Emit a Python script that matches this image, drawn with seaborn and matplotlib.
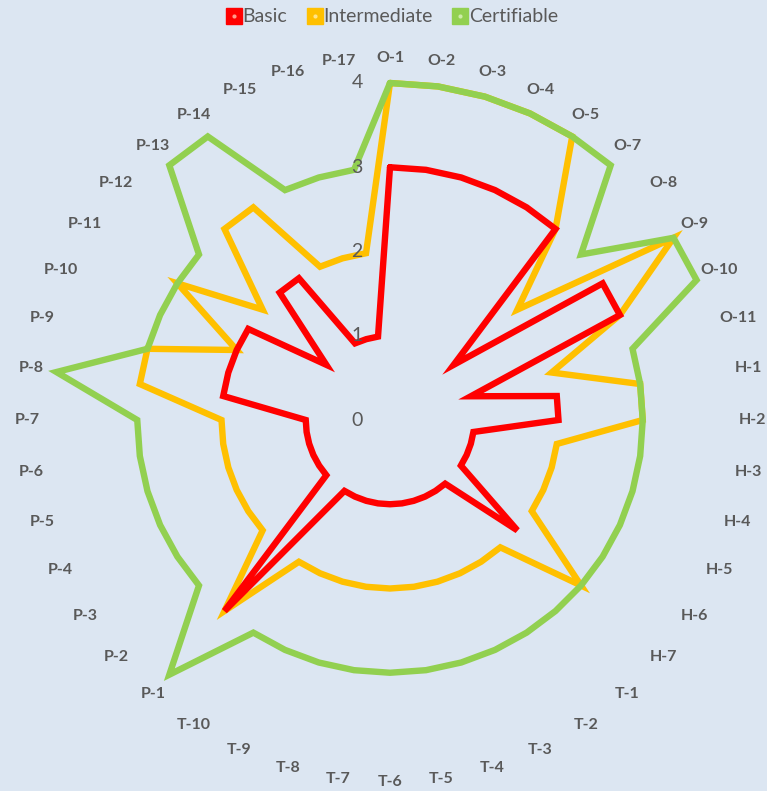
import numpy as np
import pandas as pd
import matplotlib
matplotlib.use("Agg")
import matplotlib.pyplot as plt
import matplotlib.transforms as mtransforms
from matplotlib.lines import Line2D
import seaborn as sns

# Competency codes, clockwise from the top
categories = [
    "O-1", "O-2", "O-3", "O-4", "O-5", "O-7", "O-8", "O-9", "O-10", "O-11",
    "H-1", "H-2", "H-3", "H-4", "H-5", "H-6", "H-7",
    "T-1", "T-2", "T-3", "T-4", "T-5", "T-6", "T-7", "T-8", "T-9", "T-10",
    "P-1", "P-2", "P-3", "P-4", "P-5", "P-6", "P-7", "P-8", "P-9", "P-10",
    "P-11", "P-12", "P-13", "P-14", "P-15", "P-16", "P-17",
]

basic = [
    3, 3, 3, 3, 3, 3, 1, 3, 3, 1,
    2, 2, 1, 1, 1, 1, 2,
    1, 1, 1, 1, 1, 1, 1, 1, 1, 1,
    3, 1, 1, 1, 1, 1, 1, 2, 2, 2,
    2, 1, 2, 2, 1, 1, 1,
]
intermediate = [
    4, 4, 4, 4, 4, 3, 2, 4, 3, 2,
    3, 3, 2, 2, 2, 2, 3,
    2, 2, 2, 2, 2, 2, 2, 2, 2, 2,
    3, 2, 2, 2, 2, 2, 2, 3, 3, 2,
    3, 2, 3, 3, 2, 2, 2,
]
certifiable = [
    4, 4, 4, 4, 4, 4, 3, 4, 4, 3,
    3, 3, 3, 3, 3, 3, 3,
    3, 3, 3, 3, 3, 3, 3, 3, 3, 3,
    4, 3, 3, 3, 3, 3, 3, 4, 3, 3,
    3, 3, 4, 4, 3, 3, 3,
]

levels = ["Basic", "Intermediate", "Certifiable"]
level_values = [basic, intermediate, certifiable]
radial_ticks = [0, 1, 2, 3, 4]

palette = {"Basic": "#FF0000", "Intermediate": "#FFC000", "Certifiable": "#92D050"}
marker_centres = {"Basic": "#FF9A8A", "Intermediate": "#FFE48A", "Certifiable": "#CDEBA8"}
bg = "#DCE6F2"
text_color = "#595959"

n = len(categories)
angles = np.linspace(0, 2 * np.pi, n, endpoint=False)

# Long-form table; each series is closed by repeating its first point at 2*pi
rows = []
for name, vals in zip(levels, level_values):
    for a, v in zip(list(angles) + [2 * np.pi], list(vals) + [vals[0]]):
        rows.append({"angle": a, "level": name, "value": v})
df = pd.DataFrame(rows)

sns.set_style("white")
plt.rcParams["font.family"] = ["Lato", "DejaVu Sans"]

W, H = 767, 791
fig = plt.figure(figsize=(W / 100, H / 100), dpi=100, facecolor=bg)
cx, cy, R = 390, 420, 337
ax = fig.add_axes([(cx - R) / W, (H - cy - R) / H, 2 * R / W, 2 * R / H],
                  projection="polar", facecolor=bg)
ax.set_theta_zero_location("N")
ax.set_theta_direction(-1)

sns.lineplot(data=df, x="angle", y="value", hue="level", hue_order=levels,
             palette=palette, ax=ax, legend=False, linewidth=4.6,
             solid_joinstyle="miter", estimator=None, sort=False)
zorders = {"Basic": 3, "Intermediate": 2, "Certifiable": 4}
for line, name in zip(ax.lines, levels):
    line.set_zorder(zorders[name])
    line.set_clip_on(False)

ax.set_ylim(0, 4)
ax.set_xticks([])
ax.set_yticks([])
ax.grid(False)
ax.spines["polar"].set_visible(False)
ax.set_xlabel("")
ax.set_ylabel("")

# Category labels around the outside
for a, lab in zip(angles, categories):
    ax.text(a, 4.3, lab, ha="center", va="center", fontsize=11.5,
            fontweight="bold", color=text_color, clip_on=False)

# Radial value labels beside the vertical axis
shift = mtransforms.ScaledTranslation(-33 / 100, 0, fig.dpi_scale_trans)
for t in radial_ticks:
    ax.text(0, t, str(t), ha="center", va="center", fontsize=14,
            color=text_color, transform=ax.transData + shift, clip_on=False,
            zorder=5)

# Legend with square markers
handles = []
for name in levels:
    sq = Line2D([], [], linestyle="none", marker="s", markersize=12,
                markerfacecolor=palette[name], markeredgecolor=palette[name])
    dot = Line2D([], [], linestyle="none", marker="o", markersize=3,
                 markerfacecolor=marker_centres[name], markeredgewidth=0)
    handles.append((sq, dot))
fig.legend(handles, levels, loc="center", bbox_to_anchor=(392 / W, 1 - 17 / H),
           ncol=3, frameon=False, fontsize=14, handlelength=0.8,
           handletextpad=0.05, columnspacing=1.0, labelcolor=text_color)

fig.savefig("out.png", dpi=100, facecolor=bg)
